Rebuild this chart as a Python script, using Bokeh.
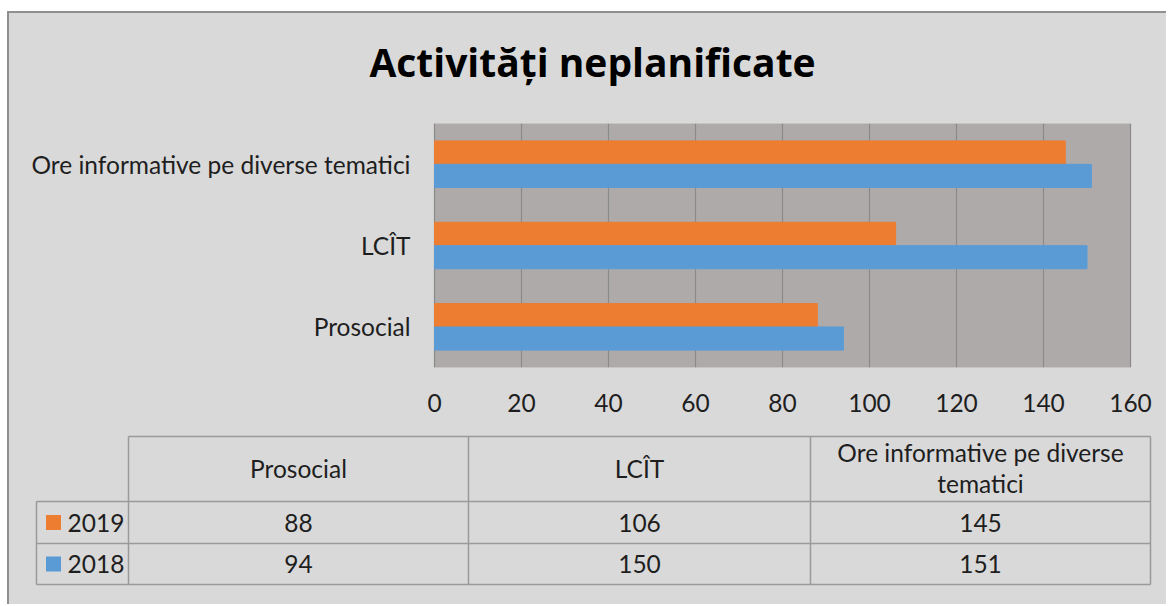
from bokeh.plotting import figure
from bokeh.models import ColumnDataSource, FactorRange, Range1d, FixedTicker, BoxAnnotation
from bokeh.transform import dodge
from bokeh.layouts import column
from bokeh.core.properties import value
from bokeh.embed import file_html
from bokeh.resources import INLINE

# ---------------- data ----------------
categories = ["Prosocial", "LCÎT", "Ore informative pe diverse tematici"]
values_2019 = [88, 106, 145]
values_2018 = [94, 150, 151]
series = ["2019", "2018"]
x_ticks = [0, 20, 40, 60, 80, 100, 120, 140, 160]
title_text = "Activități neplanificate"
header_labels = ["Prosocial", "LCÎT", "Ore informative pe diverse\ntematici"]

# ---------------- style ----------------
FONT = "Lato"
TITLE_FONT = "Open Sans"
BG = "#d9d9d9"
PLOT_BG = "#aeaaaa"
GRID = "#8a8a8a"
ORANGE = "#ed7d31"
BLUE = "#5b9bd5"
TXT = "#1e1e1e"
TABLE_LINE = "#9a9a9a"
FS = "24.5px"

OX, OY = 9, 13            # content origin on the page (after frame border)
W = 1157
H_HEAD = 118 - OY
H_CHART = 310
H_TABLE = 176

def fig(h, **kw):
    f = figure(width=W, height=h, output_backend="svg", toolbar_location=None, **kw)
    f.background_fill_color = BG
    f.border_fill_color = BG
    f.outline_line_color = None
    return f

# ---------------- title figure ----------------
head = fig(H_HEAD, x_range=Range1d(0, W), y_range=Range1d(H_HEAD, 0), min_border=0)
head.axis.visible = False
head.grid.visible = False
head.text(x=[592 - OX], y=[61 - OY], text=[title_text], text_font=value(TITLE_FONT),
          text_font_style="bold", text_font_size="39px", text_color="#000000",
          text_align="center", text_baseline="middle")

# ---------------- chart figure ----------------
PX0, PX1 = 434 - OX, 1130 - OX          # pixel span of 0..160
ppu = (PX1 - PX0) / (x_ticks[-1] - x_ticks[0])
x_start = x_ticks[0] - PX0 / ppu
x_end = x_ticks[-1] + (W - PX1) / ppu

src = ColumnDataSource(dict(cat=categories, v19=values_2019, v18=values_2018))

p = fig(H_CHART, y_range=FactorRange(*categories), x_range=Range1d(x_start, x_end),
        y_axis_location=None, min_border_left=0, min_border_right=0,
        min_border_top=5, min_border_bottom=61)

p.add_layout(BoxAnnotation(left=x_ticks[0], right=x_ticks[-1], fill_color=PLOT_BG, fill_alpha=1,
                           line_color="#9a9a9a", line_width=1, level="image"))

p.hbar(y=dodge("cat", 0.144, range=p.y_range), left=0, right="v19", height=0.284,
       fill_color=ORANGE, line_color=ORANGE, source=src)
p.hbar(y=dodge("cat", -0.144, range=p.y_range), left=0, right="v18", height=0.284,
       fill_color=BLUE, line_color=BLUE, source=src)

p.text(x=[-24 / ppu] * len(categories), y=categories, text=categories,
       text_font=value(FONT), text_font_size=FS, text_color=TXT,
       text_align="right", text_baseline="middle")

p.xaxis.ticker = FixedTicker(ticks=x_ticks)
p.xgrid.ticker = FixedTicker(ticks=x_ticks)
p.xgrid.grid_line_color = GRID
p.xgrid.grid_line_width = 1.2
p.ygrid.grid_line_color = None

ax = p.xaxis[0]
ax.axis_line_color = None
ax.major_tick_line_color = None
ax.minor_tick_line_color = None
ax.major_label_text_font = FONT
ax.major_label_text_font_size = FS
ax.major_label_text_color = TXT
ax.major_label_standoff = 20

# ---------------- table figure ----------------
t = fig(H_TABLE, x_range=Range1d(0, W), y_range=Range1d(H_TABLE, 0), min_border=0)
t.axis.visible = False
t.grid.visible = False

TY = 428
col_x = [c - OX for c in (36, 128, 468, 810, 1150)]
row_y = [r - TY for r in (436, 501, 543, 584)]

hx0 = [col_x[1], col_x[0], col_x[0], col_x[0]]
hx1 = [col_x[-1]] * 4
t.segment(x0=hx0, y0=row_y, x1=hx1, y1=row_y, line_color=TABLE_LINE, line_width=1.5)
vy0 = [row_y[1]] + [row_y[0]] * 4
vy1 = [row_y[-1]] * 5
t.segment(x0=col_x, y0=vy0, x1=col_x, y1=vy1, line_color=TABLE_LINE, line_width=1.5)

centers = [(col_x[i] + col_x[i + 1]) / 2 for i in range(1, 4)]
t.text(x=centers, y=[(row_y[0] + row_y[1]) / 2 - 1] * 3, text=header_labels,
       text_font=value(FONT), text_font_size=FS, text_color=TXT,
       text_align="center", text_baseline="middle", text_line_height=1.06)

row_c = [(row_y[1] + row_y[2]) / 2, (row_y[2] + row_y[3]) / 2]
for vals, yc in ((values_2019, row_c[0]), (values_2018, row_c[1])):
    t.text(x=centers, y=[yc] * 3, text=[str(v) for v in vals],
           text_font=value(FONT), text_font_size=FS, text_color=TXT,
           text_align="center", text_baseline="middle")

t.rect(x=[53 - OX] * 2, y=row_c, width=15, height=15, fill_color=[ORANGE, BLUE], line_color=None)
t.text(x=[67 - OX] * 2, y=row_c, text=series, text_font=value(FONT), text_font_size=FS,
       text_color=TXT, text_align="left", text_baseline="middle")

layout = column(head, p, t, spacing=0,
                styles={"border-left": "2px solid #8f8f8f", "border-top": "2px solid #8f8f8f",
                        "margin-left": "7px", "margin-top": "11px",
                        "background-color": BG})
open("out.html", "w").write(file_html(layout, INLINE))
